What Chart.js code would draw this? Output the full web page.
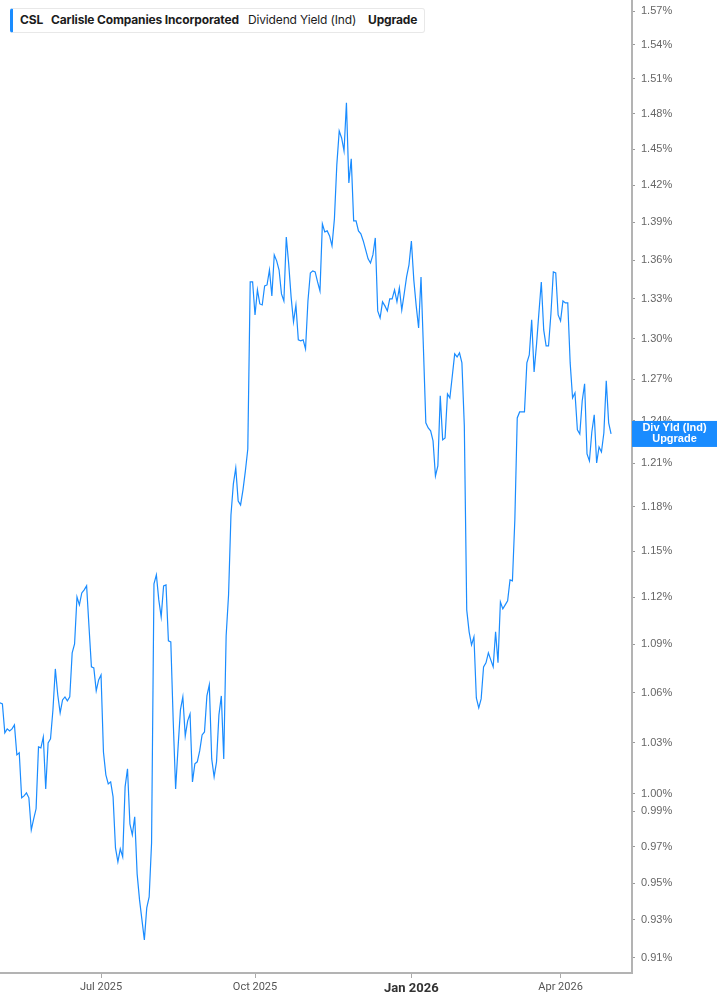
<!DOCTYPE html>
<html>
<head>
<meta charset="utf-8">
<script src="https://cdn.jsdelivr.net/npm/chart.js@4.4.1/dist/chart.umd.min.js"></script>
<style>
    html, body { margin: 0; padding: 0; background: #fff; }
    #wrap { position: relative; width: 717px; height: 1005px; }
    #legend {
        position: absolute; left: 10px; top: 8px; width: 411px; height: 23px;
        border: 1px solid #e8e8e8; border-left: 3px solid #1a8cff; border-radius: 3px;
        background: #fff; font-family: Inter, 'Noto Sans', sans-serif; font-size: 12px; color: #1c1c1c;
    }
    #legend span { position: absolute; top: 4px; white-space: nowrap; line-height: 14px; }
    #legend .b { font-weight: 700; letter-spacing: -0.15px; }
</style>
</head>
<body>
<div id="wrap">
    <canvas id="yieldChart"></canvas>
    <div id="legend">
        <span class="b" style="left:7px">CSL</span>
        <span class="b" style="left:38px">Carlisle Companies Incorporated</span>
        <span style="left:235px;letter-spacing:-0.15px">Dividend Yield (Ind)</span>
        <span class="b" style="left:355px">Upgrade</span>
    </div>
</div>
<script>
const yieldChart = document.getElementById('yieldChart');

// dividend yield (%), one value per trading day, May 2025 - Apr 2026
const yieldValues = [
    1.0539, 1.0533, 1.0358, 1.0382, 1.0370, 1.0382, 1.0406, 1.0228, 1.0240, 0.9978,
    0.9989, 1.0006, 0.9978, 0.9795, 0.9858, 0.9915, 1.0275, 1.0269, 1.0334, 1.0029,
    1.0299, 1.0323, 1.0496, 1.0747, 1.0588, 1.0478, 1.0557, 1.0575, 1.0551, 1.0575,
    1.0847, 1.0903, 1.1202, 1.1151, 1.1228, 1.1248, 1.1274, 1.1010, 1.0760, 1.0753,
    1.0612, 1.0679, 1.0710, 1.0245, 1.0111, 1.0058, 1.0070, 0.9983, 0.9694, 0.9616,
    0.9689, 0.9644, 1.0041, 1.0146, 0.9829, 0.9767, 0.9869, 0.9550, 0.9408, 0.9300,
    0.9194, 0.9365, 0.9424, 0.9722, 1.1287, 1.1345, 1.1183, 1.1074, 1.1274, 1.1280,
    1.0922, 1.0916, 1.0430, 1.0029, 1.0269, 1.0496, 1.0575, 1.0340, 1.0430, 1.0472,
    1.0070, 1.0175, 1.0187, 1.0251, 1.0346, 1.0364, 1.0581, 1.0649, 1.0204, 1.0099,
    1.0187, 1.0466, 1.0581, 1.0204, 1.0954, 1.1215, 1.1744, 1.1956, 1.2067, 1.1839,
    1.1812, 1.1915, 1.2046, 1.2199, 1.3431, 1.3431, 1.3178, 1.3370, 1.3262, 1.3254,
    1.3400, 1.3408, 1.3524, 1.3323, 1.3642, 1.3595, 1.3524, 1.3339, 1.3285, 1.3784,
    1.3572, 1.3316, 1.3125, 1.3254, 1.2990, 1.2983, 1.2990, 1.2923, 1.3285, 1.3501,
    1.3517, 1.3509, 1.3431, 1.3362, 1.3888, 1.3824, 1.3832, 1.3792, 1.3713, 1.3928,
    1.4368, 1.4652, 1.4593, 1.4484, 1.4891, 1.4220, 1.4418, 1.3912, 1.3912, 1.3832,
    1.3808, 1.3752, 1.3681, 1.3611, 1.3579, 1.3642, 1.3776, 1.3209, 1.3156, 1.3278,
    1.3247, 1.3209, 1.3301, 1.3301, 1.3370, 1.3278, 1.3385, 1.3216, 1.3339, 1.3470,
    1.3564, 1.3752, 1.3447, 1.3247, 1.3080, 1.3470, 1.2930, 1.2384, 1.2348, 1.2327,
    1.2256, 1.2011, 1.2081, 1.2578, 1.2263, 1.2277, 1.2592, 1.2563, 1.2723, 1.2886,
    1.2863, 1.2893, 1.2819, 1.2362, 1.1119, 1.0979, 1.0897, 1.0947, 1.0569, 1.0509,
    1.0563, 1.0760, 1.0785, 1.0847, 1.0803, 1.0760, 1.0979, 1.0785, 1.1170, 1.1125,
    1.1151, 1.1177, 1.1313, 1.1306, 1.1711, 1.2419, 1.2462, 1.2462, 1.2462, 1.2819,
    1.2878, 1.3141, 1.2753, 1.2953, 1.3194, 1.3431, 1.3065, 1.2945, 1.2945, 1.3186,
    1.3509, 1.3501, 1.3178, 1.3133, 1.3285, 1.3270, 1.3270, 1.2819, 1.2563, 1.2600,
    1.2334, 1.2305, 1.2541, 1.2665, 1.2164, 1.2115, 1.2319, 1.2441, 1.2101, 1.2213,
    1.2178, 1.2312, 1.2687, 1.2384, 1.2305
];

// trading-day index where each month label sits
const monthTickIdx = [42, 106, 171, 233];
const monthTickLabels = ['Jul 2025', 'Oct 2025', 'Jan 2026', 'Apr 2026'];
const boldTickLabel = 'Jan 2026';

const yTickValues = [0.91, 0.93, 0.95, 0.97, 0.99, 1.00, 1.03, 1.06, 1.09, 1.12, 1.15, 1.18,
    1.21, 1.24, 1.27, 1.30, 1.33, 1.36, 1.39, 1.42, 1.45, 1.48, 1.51, 1.54, 1.57];

const lineBlue = '#1a8cff';

Chart.defaults.font.family = "'Liberation Sans', Arial, sans-serif";

// blue tag on the right axis at the last value
const lastValueTag = {
    id: 'lastValueTag',
    afterDraw(chart) {
        const ctx = chart.ctx,
            yScale = chart.scales.y,
            last = yieldValues[yieldValues.length - 1],
            y = yScale.getPixelForValue(last),
            left = chart.chartArea.right,
            w = chart.width - left;
        ctx.save();
        ctx.fillStyle = lineBlue;
        ctx.fillRect(left, y - 13, w, 26);
        ctx.fillStyle = '#fff';
        ctx.font = "bold 11px 'Liberation Sans', Arial, sans-serif";
        ctx.textAlign = 'center';
        ctx.textBaseline = 'middle';
        ctx.fillText('Div Yld (Ind)', left + w / 2, y - 5.5);
        ctx.fillText('Upgrade', left + w / 2, y + 5.5);
        ctx.restore();
    }
};

yieldChart.width = 717;
yieldChart.height = 1005;

new Chart(yieldChart, {
    type: 'line',
    plugins: [lastValueTag],
    data: {
        datasets: [
            {
                label: 'Dividend Yield (Ind)',
                data: yieldValues.map((v, i) => ({ x: i, y: v })),
                borderColor: lineBlue,
                borderWidth: 1.2,
                pointRadius: 0,
                tension: 0,
                fill: false
            }
        ]
    },
    options: {
        responsive: false,
        animation: false,
        layout: { padding: 0 },
        plugins: {
            legend: { display: false },
            tooltip: { enabled: false }
        },
        scales: {
            x: {
                type: 'linear',
                min: 0,
                max: 262.7,
                afterBuildTicks: (scale) => {
                    scale.ticks = monthTickIdx.map(v => ({ value: v }));
                },
                afterFit: (scale) => {
                    scale.height = 32;
                    scale.paddingLeft = 0;
                    scale.paddingRight = 0;
                },
                ticks: {
                    autoSkip: false,
                    maxRotation: 0,
                    padding: 3,
                    callback: (value) => monthTickLabels[monthTickIdx.indexOf(value)],
                    color: (ctx) => monthTickLabels[ctx.index] === boldTickLabel ? '#333' : '#555',
                    font: (ctx) => monthTickLabels[ctx.index] === boldTickLabel
                        ? { family: 'Roboto', size: 13, weight: 'bold' }
                        : { family: 'Roboto', size: 11 }
                },
                grid: {
                    drawOnChartArea: false,
                    tickLength: 5,
                    color: '#aaa'
                },
                border: { display: true, color: '#b3b3b3', width: 2 }
            },
            y: {
                type: 'logarithmic',
                position: 'right',
                min: 0.902,
                max: 1.580,
                afterBuildTicks: (scale) => {
                    scale.ticks = yTickValues.map(v => ({ value: v }));
                },
                afterFit: (scale) => {
                    scale.width = 85;
                    scale.paddingTop = 0;
                    scale.paddingBottom = 0;
                },
                ticks: {
                    autoSkip: false,
                    padding: 6,
                    color: '#666',
                    font: { size: 11 },
                    callback: (value) => value.toFixed(2) + '%'
                },
                grid: {
                    drawOnChartArea: false,
                    tickLength: 3,
                    color: '#999'
                },
                border: { display: true, color: '#b3b3b3', width: 2 }
            }
        }
    }
});
</script>
</body>
</html>
